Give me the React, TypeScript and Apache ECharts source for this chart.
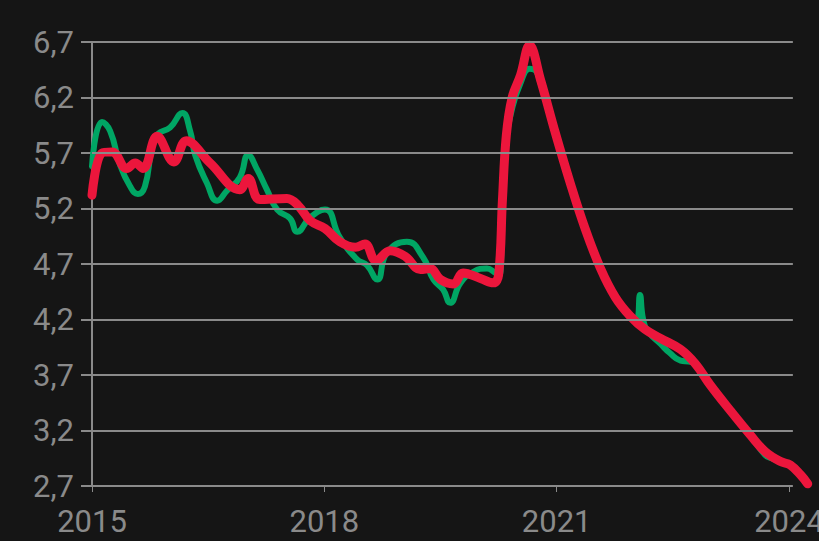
import React, { useEffect, useRef } from "react";
import * as echarts from "echarts";

// x = months since January 2015
const yTicks = [2.7, 3.2, 3.7, 4.2, 4.7, 5.2, 5.7, 6.2, 6.7];
const xTickMonths = [0, 36, 72, 108];
const xTickYears = [2015, 2018, 2021, 2024];
const gridEndMonth = 108.6;

const greenMonths = [
  0, 1.55, 2.8, 4.3, 5.9, 7.1, 8.2, 9.3, 10.2, 12.1, 14.0, 15.2, 16.0, 17.8, 19.4, 20.9, 22.9, 24.2,
  25.6, 27.1, 28.7, 30.7, 31.8, 33.8, 36.1, 38.4, 41.1, 42.6, 44.2, 45.7, 48.8, 51.3, 52.9, 54.4,
  55.5, 57.1, 59.1, 61.2, 62.5, 63.1, 63.6, 64.2, 65.1, 66.4, 67.8, 68.6, 69.5, 71.8, 74.1, 76.4,
  78.8, 81.1, 83.4, 84.4, 84.9, 85.4, 86.2, 88.1, 89.5, 91.2, 92.5, 93.5, 95.8, 98.9, 102.0, 104.3,
  105.3, 106.7, 108.2, 109.8, 110.9,
];
const greenValues = [
  5.58, 5.98, 5.9, 5.6, 5.4, 5.33, 5.4, 5.75, 5.87, 5.93, 6.06, 5.9, 5.68, 5.43, 5.27, 5.36, 5.48, 5.68,
  5.55, 5.37, 5.19, 5.11, 4.99, 5.12, 5.19, 4.94, 4.74, 4.69, 4.56, 4.8, 4.9, 4.76, 4.56, 4.47,
  4.35, 4.53, 4.63, 4.66, 4.62, 4.6, 5.25, 5.8, 6.1, 6.33, 6.46, 6.45, 6.33, 5.88, 5.43, 5.02,
  4.66, 4.4, 4.23, 4.2, 4.42, 4.2, 4.09, 3.98, 3.9, 3.83, 3.82, 3.8, 3.61, 3.38, 3.16, 2.98,
  2.95, 2.92, 2.89, 2.8, 2.72,
];

const redMonths = [
  0, 1.55, 3.1, 5.4, 6.7, 7.9, 10.1, 12.7, 14.6, 18.3, 22.9, 24.2, 26.0, 30.2, 31.9, 33.8, 36.1, 38.4,
  40.8, 42.3, 44.0, 46.2, 48.5, 50.9, 52.4, 54.0, 56.0, 57.5, 60.2, 62.2, 63.0, 63.6, 64.2, 65.1,
  66.4, 67.8, 69.5, 71.8, 74.1, 76.4, 78.8, 81.1, 83.4, 85.7, 88.1, 91.2, 93.5, 95.8, 98.9, 102.0,
  104.3, 106.7, 108.2, 109.8, 110.9,
];
const redValues = [
  5.32, 5.7, 5.71, 5.56, 5.61, 5.56, 5.85, 5.62, 5.81, 5.61, 5.37, 5.47, 5.28, 5.29, 5.23, 5.09, 5.02, 4.9,
  4.85, 4.88, 4.73, 4.82, 4.77, 4.65, 4.66, 4.56, 4.52, 4.62, 4.57, 4.53, 4.6, 5.28, 5.86, 6.2,
  6.4, 6.67, 6.36, 5.88, 5.43, 5.02, 4.66, 4.4, 4.23, 4.11, 4.03, 3.93, 3.8, 3.61, 3.38, 3.16,
  3.01, 2.92, 2.89, 2.8, 2.72,
];

const gray = "#8a8a8a";

export default function App() {
  const ref = useRef<HTMLDivElement>(null);
  useEffect(() => {
    if (!ref.current) return;
    const chart = echarts.init(ref.current, undefined, { renderer: "svg" });
    chart.setOption({
      animation: false,
      backgroundColor: "#151515",
      grid: {
        left: 92,
        right: 6,
        top: 42,
        bottom: 55,
        containLabel: false,
        outerBoundsMode: "none",
      },
      xAxis: {
        type: "value",
        min: 0,
        max: (819 - 6 - 92) / (697 / 108),
        axisLine: { show: false },
        axisTick: {
          show: true,
          length: 6,
          customValues: xTickMonths,
          lineStyle: { color: gray, width: 1 },
        },
        splitLine: { show: false },
        axisLabel: {
          color: gray,
          fontSize: 31,
          fontFamily: "Roboto",
          margin: 20,
          customValues: xTickMonths,
          formatter: (v: number) => {
            const idx = xTickMonths.indexOf(Math.round(v));
            return idx >= 0 ? String(xTickYears[idx]) : "";
          },
        },
      },
      yAxis: {
        type: "value",
        min: yTicks[0],
        max: yTicks[yTicks.length - 1],
        interval: 0.5,
        axisLine: { show: true, lineStyle: { color: gray, width: 2 } },
        axisTick: { show: true, length: 11, lineStyle: { color: gray, width: 2 } },
        splitLine: { show: false },
        axisLabel: {
          color: gray,
          fontSize: 31,
          fontFamily: "Roboto",
          margin: 18,
          formatter: (v: number) => v.toFixed(1).replace(".", ","),
        },
      },
      series: [
        {
          type: "line",
          data: [],
          z: 1,
          silent: true,
          markLine: {
            silent: true,
            symbol: ["none", "none"],
            label: { show: false },
            lineStyle: { color: gray, width: 2, type: "solid" },
            emphasis: { disabled: true },
            data: yTicks.map((v) => [{ coord: [0, v] }, { coord: [gridEndMonth, v] }]),
          },
        },
        {
          type: "line",
          data: greenMonths.map((m, i) => [m, greenValues[i]]),
          smooth: 0.5,
          symbol: "none",
          lineStyle: { color: "#00a664", width: 6, cap: "round", join: "round" },
          z: 2,
        },
        {
          type: "line",
          data: redMonths.map((m, i) => [m, redValues[i]]),
          smooth: 0.4,
          symbol: "none",
          lineStyle: { color: "#ec163c", width: 9, cap: "round", join: "round" },
          z: 3,
        },
      ],
    });
    return () => chart.dispose();
  }, []);
  return <div ref={ref} style={{ width: 819, height: 541, position: "absolute", left: 0, top: 0 }} />;
}
